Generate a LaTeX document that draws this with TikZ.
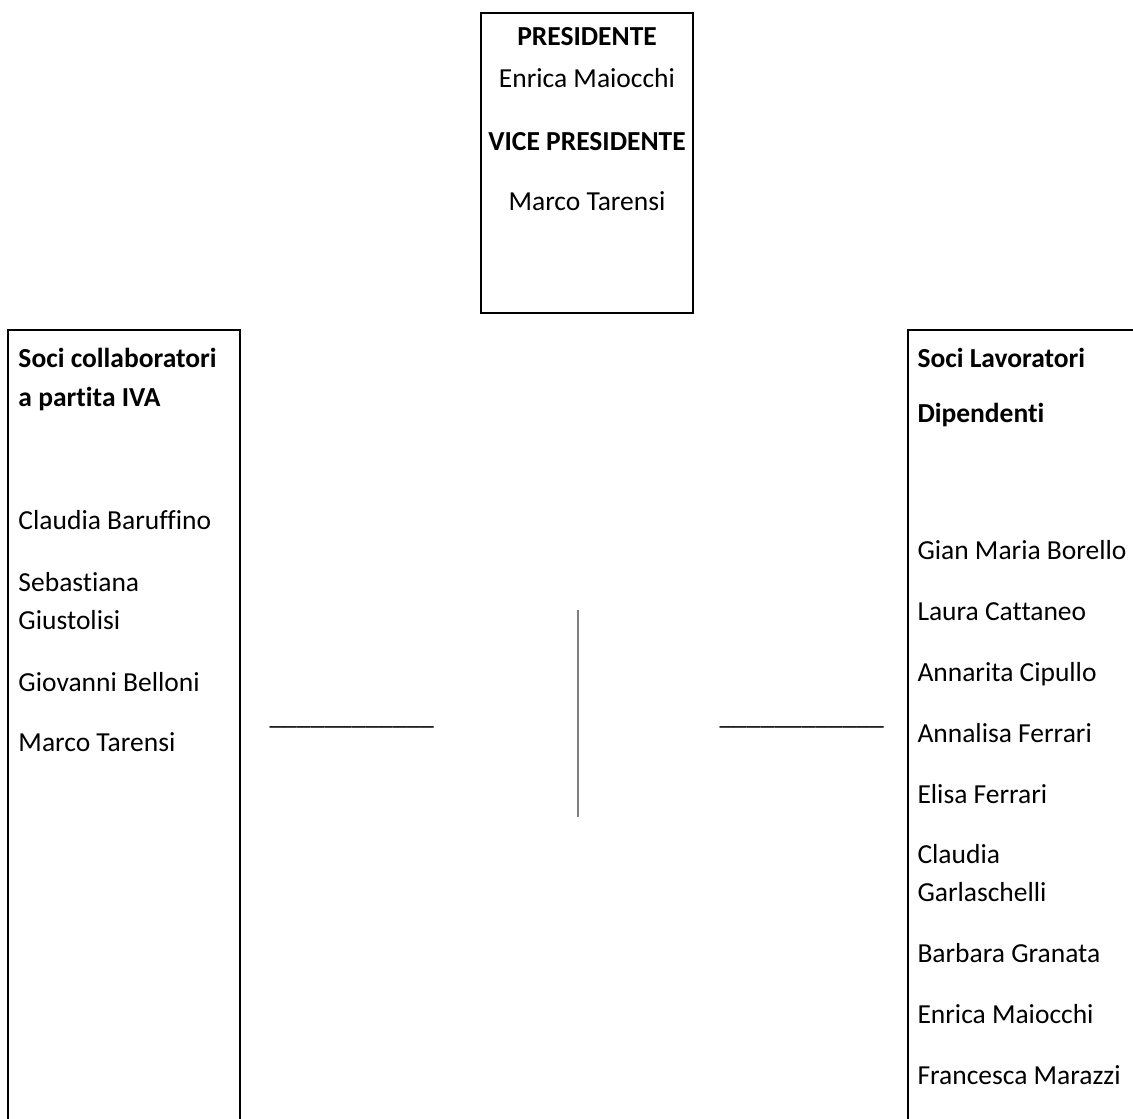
\documentclass[tikz,border=0pt]{standalone}
\usepackage{fontspec}
\setmainfont[Ligatures={NoCommon}]{Carlito}
\begin{document}
\begin{tikzpicture}[x=0.4pt,y=-0.4pt,
  box/.style={draw=black,line width=1pt,inner sep=0pt,outer sep=0pt,anchor=north west},
  txt/.style={font=\fontsize{11}{13}\selectfont,inner sep=0pt,anchor=base west},
  ctxt/.style={font=\fontsize{11}{13}\selectfont,inner sep=0pt,anchor=base},
  bold/.style={font=\fontsize{11}{13}\selectfont\bfseries},
  sep/.style={draw=black!50,line width=0.8pt}]
\clip (0,0) rectangle (1133,1119);
% boxes
\node[box,minimum width=84.8pt,minimum height=120pt] (top) at (481,13) {};
\node[box,minimum width=92.8pt,minimum height=320pt] (lbox) at (8,330) {};
\node[box,minimum width=96pt,minimum height=320pt] (rbox) at (908,330) {};
% top box text
\node[ctxt,bold] (pres) at (587,46) {PRESIDENTE};
\node[ctxt] (presn) at (587,88) {Enrica Maiocchi};
\node[ctxt,bold] (vice) at (587,151) {VICE PRESIDENTE};
\node[ctxt] (vicen) at (587,211) {Marco Tarensi};
% left box text
\node[txt,bold] (lh1) at (18,367) {Soci collaboratori};
\node[txt,bold] (lh2) at (18,406) {a partita IVA};
\node[txt] (l1) at (18,529) {Claudia Baruffino};
\node[txt] (l2a) at (18,591) {Sebastiana};
\node[txt] (l2b) at (18,629) {Giustolisi};
\node[txt] (l3) at (18,691) {Giovanni Belloni};
\node[txt] (l4) at (18,751) {Marco Tarensi};
% right box text
\node[txt,bold] (rh1) at (917,367) {Soci Lavoratori};
\node[txt,bold] (rh2) at (917,422) {Dipendenti};
\node[txt] (r1) at (917,559) {Gian Maria Borello};
\node[txt] (r2) at (917,620) {Laura Cattaneo};
\node[txt] (r3) at (917,681) {Annarita Cipullo};
\node[txt] (r4) at (917,742) {Annalisa Ferrari};
\node[txt] (r5) at (917,803) {Elisa Ferrari};
\node[txt] (r6a) at (917,863) {Claudia};
\node[txt] (r6b) at (917,901) {Garlaschelli};
\node[txt] (r7) at (917,962) {Barbara Granata};
\node[txt] (r8) at (917,1023) {Enrica Maiocchi};
\node[txt] (r9) at (917,1084) {Francesca Marazzi};
% underscore rules and separator
\node[txt] (ul) at (269,724) {\_\_\_\_\_\_\_\_\_\_\_\_};
\node[txt] (ur) at (719,724) {\_\_\_\_\_\_\_\_\_\_\_\_};
\coordinate (vt) at (578,610);
\coordinate (vb) at (578,817);
\draw[sep] (vt) -- (vb);
\end{tikzpicture}
\end{document}
